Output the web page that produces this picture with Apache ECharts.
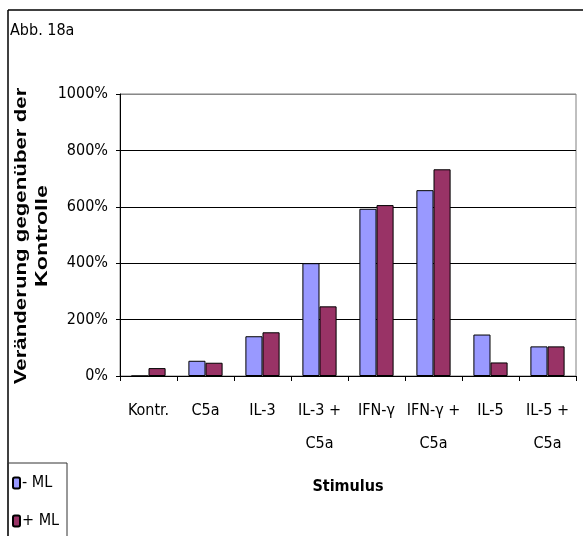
<!DOCTYPE html>
<html><head><meta charset="utf-8">
<script src="https://cdn.jsdelivr.net/npm/echarts@6/dist/echarts.min.js"></script>
<style>html,body{margin:0;padding:0;background:#fff}#c{width:587px;height:536px}</style>
</head><body><div id="c"></div>
<script>
const categories = ['Kontr.', 'C5a', 'IL-3', 'IL-3 +\nC5a', 'IFN-γ', 'IFN-γ +\nC5a', 'IL-5', 'IL-5 +\nC5a'];
const seriesNames = ['- ML', '+ ML'];
const minusML = [0, 54, 141, 400, 593, 659, 147, 105];
const plusML = [28, 47, 155, 247, 606, 733, 48, 105];
const yTicks = [0, 200, 400, 600, 800, 1000];

const NARROW = '"DejaVu Sans Condensed", "Liberation Sans Narrow", "Liberation Sans", Arial, sans-serif';
const SANS = '"Liberation Sans", Arial, sans-serif';

const chart = echarts.init(document.getElementById('c'), null, {renderer: 'canvas'});
chart.setOption({
  animation: false,
  backgroundColor: '#fff',
  grid: {left: 120, right: 11, top: 94, bottom: 160, show: true, borderColor: '#808080', borderWidth: 1},
  legend: {
    orient: 'vertical', left: 12, top: 473, itemGap: 18, itemWidth: 7, itemHeight: 11,
    padding: 0, data: seriesNames,
    textStyle: {fontFamily: NARROW, fontSize: 16, color: '#000', lineHeight: 20, padding: [0,0,0,-3]}
  },
  xAxis: {
    type: 'category', data: categories,
    axisLine: {lineStyle: {color: '#000', width: 1}},
    axisTick: {show: true, length: 5, lineStyle: {color: '#000'}},
    axisLabel: {interval: 0, fontFamily: NARROW, fontSize: 16, color: '#000', lineHeight: 33, margin: 18},
    name: 'Stimulus', nameLocation: 'middle', nameGap: 103,
    nameTextStyle: {fontFamily: NARROW, fontSize: 16, fontWeight: 'bold', color: '#000'}
  },
  yAxis: {
    type: 'value', min: yTicks[0], max: yTicks[yTicks.length - 1], interval: 200,
    axisLine: {show: true, lineStyle: {color: '#000', width: 1}},
    axisTick: {show: true, length: 4, lineStyle: {color: '#000'}},
    axisLabel: {formatter: function (v) { return v + '%'; }, fontFamily: NARROW, fontSize: 16, color: '#000', margin: 12},
    splitLine: {show: true, lineStyle: {color: ['#000', '#000', '#000', '#000', '#000', '#888'], width: 1}}
  },
  series: [
    {name: seriesNames[0], type: 'bar', data: minusML, barGap: '0%', barCategoryGap: '40%',
     itemStyle: {color: '#9999FF', borderColor: '#000', borderWidth: 1}},
    {name: seriesNames[1], type: 'bar', data: plusML, barGap: '0%', barCategoryGap: '40%',
     itemStyle: {color: '#993366', borderColor: '#000', borderWidth: 1}}
  ],
  graphic: [
    {type: 'line', shape: {x1: 8, y1: 10, x2: 583, y2: 10}, style: {stroke: '#000', lineWidth: 1.5}},
    {type: 'line', shape: {x1: 8, y1: 10, x2: 8, y2: 536}, style: {stroke: '#000', lineWidth: 1.5}},
    {type: 'rect', shape: {x: 8, y: 463, width: 59, height: 80}, style: {fill: 'none', stroke: '#333', lineWidth: 1}},
    {type: 'text', left: 10, top: 23, style: {text: 'Abb. 18a', font: '16px ' + NARROW, fill: '#000'}},
    {type: 'text', x: 22, y: 236, rotation: Math.PI / 2, scaleX: 1.39,
     style: {text: 'Veränderung gegenüber der', font: 'bold 16px ' + SANS, fill: '#000', align: 'center', verticalAlign: 'middle'}},
    {type: 'text', x: 43, y: 236, rotation: Math.PI / 2, scaleX: 1.45,
     style: {text: 'Kontrolle', font: 'bold 16px ' + SANS, fill: '#000', align: 'center', verticalAlign: 'middle'}}
  ]
});
</script></body></html>
